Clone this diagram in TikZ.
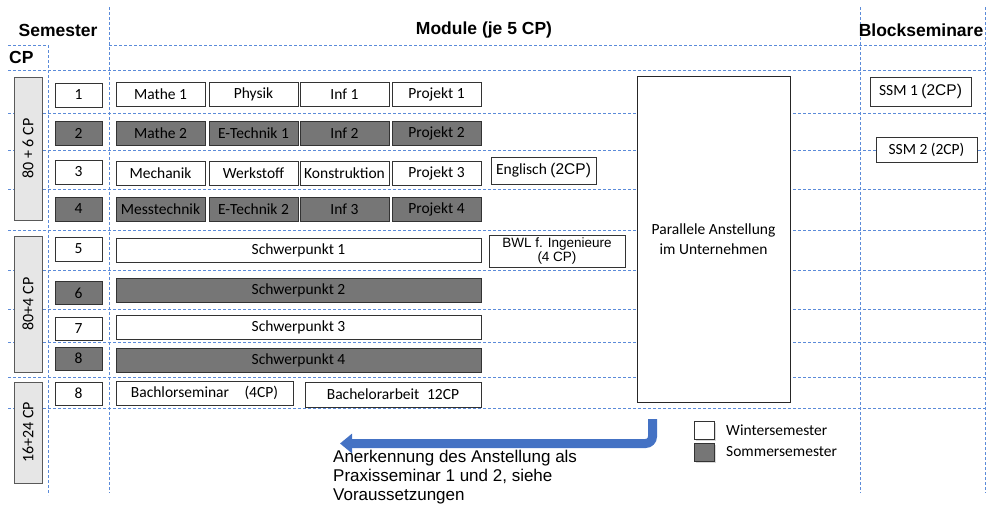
\documentclass[tikz,border=0pt]{standalone}
\usepackage{fontspec}
\setmainfont{Carlito}
\newfontfamily\arialfont{Liberation Sans}
\usetikzlibrary{arrows.meta, shadows}

\definecolor{gitterblau}{HTML}{5B8BD9}
\definecolor{pfeilblau}{HTML}{4472C4}
\definecolor{somgrau}{HTML}{767676}
\definecolor{cpgrau}{HTML}{E6E6E6}

\tikzset{
    gitter/.style={gitterblau, dash pattern=on 3pt off 2pt, line width=0.8pt},
    ws/.style={draw=black!80, fill=white, line width=1pt, minimum height=24pt, inner sep=1pt, font=\fontsize{15.5}{17}\selectfont},
    ss/.style={ws, fill=somgrau},
    modul/.style={minimum width=89pt},
    semnr/.style={minimum width=47pt},
    cpbox/.style={draw=black!65, fill=cpgrau, line width=1pt, minimum height=28pt, inner sep=0pt, rotate=90, font=\fontsize{16}{18}\selectfont},
    kopf/.style={font=\arialfont\bfseries\fontsize{17.5}{20}\selectfont},
}

\begin{document}
\begin{tikzpicture}[x=1pt, y=-1pt]
    \useasboundingbox (0,0) rectangle (986,506);

    % Gitterlinien
    \draw[gitter] (8,45) -- (48,45) (109,45) -- (985,45);
    \foreach \y in {70,113,150,189,230,270,309,342,377,408}
        \draw[gitter] (8,\y) -- (985,\y);
    \draw[gitter] (48,45) -- (48,495);
    \foreach \x in {109,860,985}
        \draw[gitter] (\x,7) -- (\x,493);

    % Ueberschriften
    \node[kopf] (semester) at (58,30) {Semester};
    \node[kopf] (module) at (484,30) {Module (je 5 CP)};
    \node[kopf] (block) at (921,30) {Blockseminare};
    \node[kopf, anchor=west, inner sep=0pt] (cp) at (9,57) {CP};

    % CP-Bloecke (gedreht)
    \node[cpbox, minimum width=143pt] (cp1) at (28,148.5) {80 + 6 CP};
    \node[cpbox, minimum width=136pt] (cp2) at (28,304) {80+4 CP};
    \node[cpbox, minimum width=101pt] (cp3) at (28,432.5) {16+24 CP};

    % Semester 1 (Winter)
    \node[ws, semnr] (sem1) at (78.5,95) {1};
    \node[ws, modul] (mathe1) at (160.5,94.5) {Mathe 1};
    \node[ws, modul] (physik) at (253.5,94.5) {Physik};
    \node[ws, modul] (inf1) at (344.5,94.5) {Inf 1};
    \node[ws, modul] (projekt1) at (436.5,94.5) {Projekt 1};

    % Semester 2 (Sommer)
    \node[ss, semnr] (sem2) at (78.5,133) {2};
    \node[ss, modul] (mathe2) at (160.5,133) {Mathe 2};
    \node[ss, modul] (etechnik1) at (253.5,133) {E-Technik 1};
    \node[ss, modul] (inf2) at (344.5,133) {Inf 2};
    \node[ss, modul] (projekt2) at (436.5,133) {Projekt 2};

    % Semester 3 (Winter)
    \node[ws, semnr] (sem3) at (78.5,172) {3};
    \node[ws, modul] (mechanik) at (160.5,173) {Mechanik};
    \node[ws, modul] (werkstoff) at (253.5,173) {Werkstoff};
    \node[ws, modul] (konstruktion) at (344.5,173) {Konstruktion};
    \node[ws, modul] (projekt3) at (436.5,173) {Projekt 3};
    \node[ws, minimum width=105pt, minimum height=27pt] (englisch) at (543.5,170.5) {Englisch {\arialfont(2CP)}};

    % Semester 4 (Sommer)
    \node[ss, semnr] (sem4) at (78.5,209) {4};
    \node[ss, modul] (messtechnik) at (160.5,209.5) {Messtechnik};
    \node[ss, modul] (etechnik2) at (253.5,209.5) {E-Technik 2};
    \node[ss, modul] (inf3) at (344.5,209.5) {Inf 3};
    \node[ss, modul] (projekt4) at (436.5,209.5) {Projekt 4};

    % Semester 5 bis 8 (Schwerpunkte)
    \node[ws, semnr] (sem5) at (78.5,249) {5};
    \node[ws, minimum width=365pt] (schwer1) at (298.5,250.5) {Schwerpunkt 1};
    \node[ws, minimum width=136pt, minimum height=32pt, align=center, font=\arialfont\fontsize{13.5}{14}\selectfont] (bwl) at (557,251) {BWL f. Ingenieure\\(4 CP)};
    \node[ss, semnr, minimum height=23pt] (sem6) at (78.5,293) {6};
    \node[ss, minimum width=365pt] (schwer2) at (298.5,290) {Schwerpunkt 2};
    \node[ws, semnr, minimum height=23pt] (sem7) at (78.5,328.5) {7};
    \node[ws, minimum width=365pt] (schwer3) at (298.5,327.5) {Schwerpunkt 3};
    \node[ss, semnr, minimum height=23pt] (sem8) at (78.5,358.5) {8};
    \node[ss, minimum width=365pt] (schwer4) at (298.5,360) {Schwerpunkt 4};

    % Abschluss
    \node[ws, semnr, minimum height=23pt] (semab) at (78.5,393.5) {8};
    \node[ws, minimum width=177pt] (bachsem) at (204.5,393) {Bachlorseminar\quad(4CP)};
    \node[ws, minimum width=176pt, minimum height=25pt] (bacharb) at (393,394.5) {Bachelorarbeit\enspace 12CP};

    % Anstellung im Unternehmen
    \node[draw=black!85, fill=white, line width=1pt, minimum width=153pt, minimum height=326pt, align=center, font=\fontsize{15.5}{20}\selectfont] (anstellung) at (713.5,239) {Parallele Anstellung\\im Unternehmen};

    % Blockseminare
    \node[ws, minimum width=101pt, minimum height=29pt] (ssm1) at (920.5,91.5) {SSM 1 {\arialfont(2CP)}};
    \node[ws, minimum width=101pt, minimum height=25pt] (ssm2) at (926.5,149.5) {SSM 2 (2CP)};

    % Pfeil zur Anerkennung
    \coordinate (pfeilstart) at (652.5,419);
    \coordinate (pfeilende) at (340,443.5);
    \draw[pfeilblau, line width=9pt, rounded corners=7pt, -{Triangle[length=12pt, width=19pt]}] (pfeilstart) |- (pfeilende);
    \node[anchor=north west, align=left, inner sep=0pt, font=\arialfont\fontsize{17}{19.2}\selectfont] (anerkennung) at (333,450) {Anerkennung des Anstellung als\\Praxisseminar 1 und 2, siehe\\Voraussetzungen};

    % Legende
    \node[ws, minimum width=20pt, minimum height=18pt, drop shadow={shadow xshift=1.5pt, shadow yshift=-2pt, opacity=0.3}] (legws) at (704,430) {};
    \node[ss, minimum width=20pt, minimum height=18pt, drop shadow={shadow xshift=1.5pt, shadow yshift=-2pt, opacity=0.3}] (legss) at (704,452) {};
    \node[anchor=west, inner sep=0pt, font=\fontsize{15.5}{17}\selectfont] (legwstext) at (726,430) {Wintersemester};
    \node[anchor=west, inner sep=0pt, font=\fontsize{15.5}{17}\selectfont] (legsstext) at (726,452) {Sommersemester};

\end{tikzpicture}
\end{document}
